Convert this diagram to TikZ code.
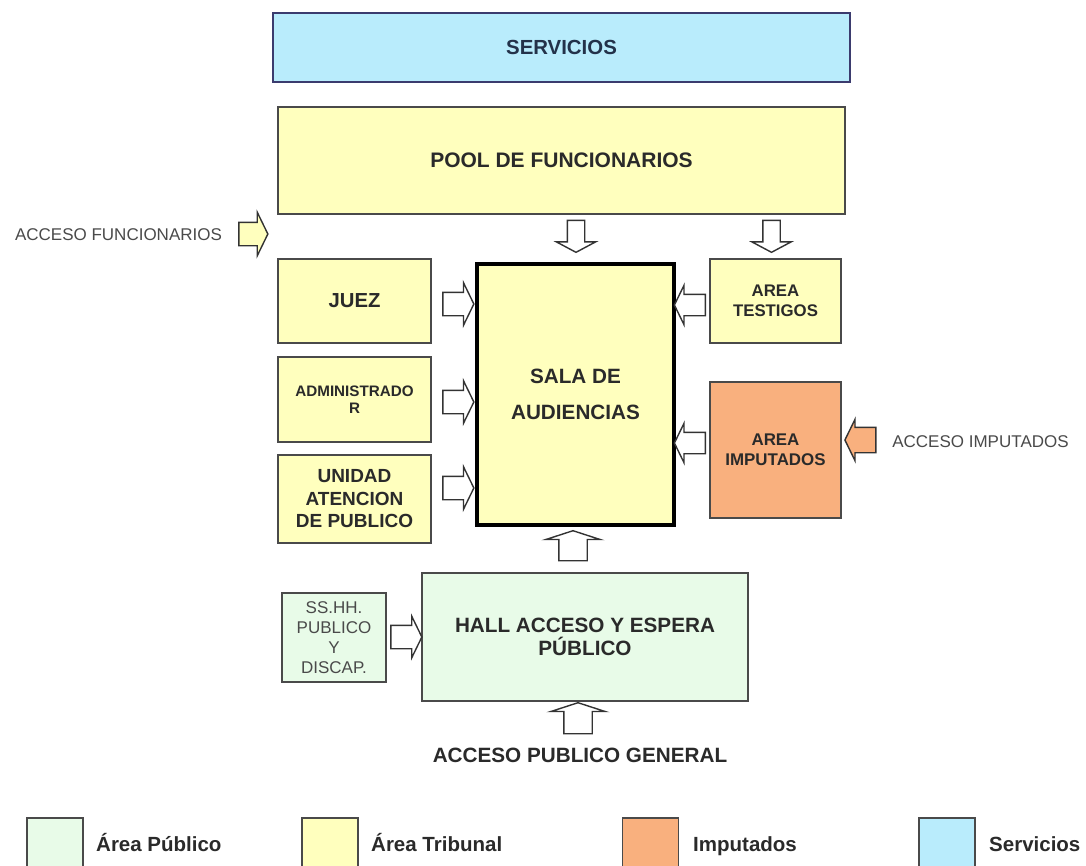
\documentclass[tikz,border=0pt]{standalone}
\usepackage{fontspec}
\setmainfont{Liberation Sans}
\usetikzlibrary{shapes.arrows}
\definecolor{cserv}{HTML}{B9ECFC}
\definecolor{ctrib}{HTML}{FFFFBE}
\definecolor{cimp}{HTML}{F9B07E}
\definecolor{cpub}{HTML}{E8FBE8}
\definecolor{cline}{HTML}{4A4A4A}
\definecolor{ctext}{HTML}{2A2A2A}
\definecolor{cnavy}{HTML}{23324A}
\definecolor{cgray}{HTML}{4A4A4A}
\begin{document}
\begin{tikzpicture}[x=1pt,y=-1pt,
  box/.style={draw=cline,line width=1.6pt,inner sep=0pt,align=center,text=ctext,font=\bfseries},
  blk/.style={single arrow,draw=black!80,line width=1.4pt,fill=white,inner xsep=0pt,single arrow tip angle=128},
  harr/.style={blk,minimum height=31pt,inner ysep=11pt,single arrow head extend=9.5pt},
  varr/.style={blk,minimum height=32pt,inner ysep=8pt,single arrow head extend=11pt,single arrow tip angle=124,rotate=-90},
  uarr/.style={blk,minimum height=31pt,inner ysep=13.5pt,single arrow head extend=13pt,single arrow tip angle=144,rotate=90},
  larr/.style={blk,minimum height=31pt,inner ysep=10pt,single arrow head extend=9pt,rotate=180},
  legbox/.style={draw=cline,line width=1.6pt,minimum width=56pt,minimum height=70pt,inner sep=0pt},
  legtxt/.style={anchor=base west,inner sep=0pt,text=ctext,font=\bfseries\fontsize{20.5}{24}\selectfont},
  acc/.style={inner sep=0pt,text=cgray,font=\fontsize{17}{20}\selectfont}
]
\useasboundingbox (0,0) rectangle (1086,865);
\clip (0,0) rectangle (1086,865);
\fill[white] (0,0) rectangle (1086,865);

% boxes
\node[box,draw=cline!80!blue,fill=cserv,text=cnavy,minimum width=577pt,minimum height=69pt,font=\bfseries\fontsize{20.4}{24}\selectfont] (serv) at (561.5,47.5) {SERVICIOS};
\node[box,fill=ctrib,minimum width=567pt,minimum height=107pt,font=\bfseries\fontsize{21}{24}\selectfont] (pool) at (561.5,160.5) {POOL DE FUNCIONARIOS};
\node[box,fill=ctrib,minimum width=153pt,minimum height=84pt,font=\bfseries\fontsize{20.3}{24}\selectfont] (juez) at (354.5,301) {JUEZ};
\node[box,fill=ctrib,minimum width=153pt,minimum height=85pt,font=\bfseries\fontsize{15.2}{17}\selectfont] (admin) at (354.5,399.5) {ADMINISTRADO\\R};
\node[box,fill=ctrib,minimum width=153pt,minimum height=88pt,font=\bfseries\fontsize{19}{22.5}\selectfont] (unidad) at (354.5,499) {UNIDAD\\ATENCION\\DE PUBLICO};
\node[box,draw=black,line width=3.5pt,fill=ctrib,minimum width=197pt,minimum height=261pt,font=\bfseries\fontsize{20.7}{36}\selectfont] (sala) at (575.5,394.5) {SALA DE\\AUDIENCIAS};
\node[box,fill=ctrib,minimum width=131pt,minimum height=84pt,font=\bfseries\fontsize{16.8}{20}\selectfont] (test) at (775.5,301) {AREA\\TESTIGOS};
\node[box,fill=cimp,minimum width=131pt,minimum height=136pt,font=\bfseries\fontsize{16.9}{20}\selectfont] (imp) at (775.5,450) {AREA\\IMPUTADOS};
\node[box,fill=cpub,minimum width=326pt,minimum height=128pt,font=\bfseries\fontsize{20.7}{23}\selectfont] (hall) at (585,637) {HALL ACCESO Y ESPERA\\PÚBLICO};
\node[box,fill=cpub,minimum width=104pt,minimum height=89pt,text=cgray,font=\fontsize{17}{20}\selectfont] (sshh) at (334,637.5) {SS.HH.\\PUBLICO\\Y\\DISCAP.};

% access labels
\node[acc] (accf) at (118.5,235) {ACCESO FUNCIONARIOS};
\node[acc] (acci) at (980.5,442) {ACCESO IMPUTADOS};
\node[inner sep=0pt,text=ctext,font=\bfseries\fontsize{20.7}{24}\selectfont] (accp) at (580,755) {ACCESO PUBLICO GENERAL};

% block arrows
\node[harr,fill=ctrib,minimum height=29pt,inner ysep=11pt,single arrow head extend=10pt] (aaf) at (250.5,234) {};
\node[varr] (ad1) at (576,234) {};
\node[varr] (ad2) at (771.5,234) {};
\node[harr] (ar1) at (455.5,304) {};
\node[harr] (ar2) at (455.5,402) {};
\node[harr] (ar3) at (455.5,488) {};
\node[larr] (al1) at (692.5,305) {};
\node[larr] (al2) at (692.5,443) {};
\node[larr,fill=cimp,inner ysep=12pt,single arrow head extend=8pt] (aai) at (863.5,440) {};
\node[uarr,minimum height=30pt] (au1) at (573,548) {};
\node[harr,minimum height=31pt,inner ysep=11pt,single arrow head extend=9pt] (ars) at (403.5,637) {};
\node[uarr] (au2) at (578,720.5) {};

% legend
\node[legbox,fill=cpub] (lg1) at (55,853) {};
\node[legtxt] (lt1) at (96,851) {Área Público};
\node[legbox,fill=ctrib] (lg2) at (330,853) {};
\node[legtxt] (lt2) at (371,851) {Área Tribunal};
\node[legbox,fill=cimp] (lg3) at (650.5,853) {};
\node[legtxt] (lt3) at (693,851) {Imputados};
\node[legbox,fill=cserv] (lg4) at (947,853) {};
\node[legtxt] (lt4) at (989,851) {Servicios};
\end{tikzpicture}
\end{document}
